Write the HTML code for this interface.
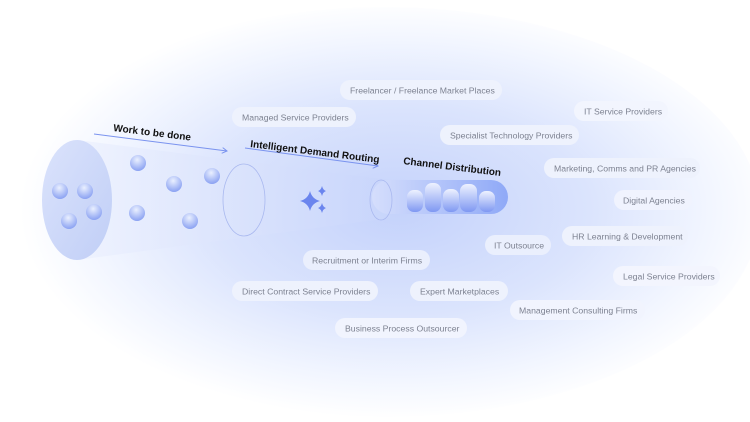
<!DOCTYPE html>
<html><head><meta charset="utf-8"><style>
html,body{margin:0;padding:0;background:#fff;}
svg{display:block;}
.p{font-family:"Liberation Sans",sans-serif;font-size:8.7px;fill:#7d8291;}
.l{font-family:"Liberation Sans",sans-serif;font-size:10px;fill:#111;font-weight:bold;}
</style></head><body>
<svg width="750" height="422" viewBox="0 0 750 422" xmlns="http://www.w3.org/2000/svg">
<defs>
<radialGradient id="bg" cx="400" cy="210" r="380" gradientUnits="userSpaceOnUse" gradientTransform="translate(400 210) scale(1 0.55) translate(-400 -210)">
<stop offset="0" stop-color="#c4d2fb"/><stop offset="0.5" stop-color="#dbe4fd"/><stop offset="0.8" stop-color="#f1f5ff"/><stop offset="1" stop-color="#fff"/>
</radialGradient>
<linearGradient id="fun" x1="0" y1="0" x2="1" y2="0">
<stop offset="0" stop-color="#eef2fe"/><stop offset="1" stop-color="#c8d5fb"/>
</linearGradient>
<linearGradient id="tube" x1="0" y1="0" x2="1" y2="0">
<stop offset="0" stop-color="#d5defc"/><stop offset="1" stop-color="#8fa9f7"/>
</linearGradient>
<radialGradient id="dot" cx="0.45" cy="0.3" r="0.7">
<stop offset="0" stop-color="#eaf0ff"/><stop offset="1" stop-color="#8aa1f2"/>
</radialGradient>
<linearGradient id="bar" x1="0" y1="0" x2="0" y2="1">
<stop offset="0" stop-color="#eef2ff"/><stop offset="1" stop-color="#7f98f2"/>
</linearGradient>
<linearGradient id="big" x1="0" y1="0" x2="1" y2="1">
<stop offset="0" stop-color="#dbe3fc"/><stop offset="1" stop-color="#c0cef6"/>
</linearGradient>
<marker id="ar" markerWidth="6" markerHeight="6" refX="5" refY="3" orient="auto"><path d="M0,0 L5,3 L0,6" fill="none" stroke="#7a93ef" stroke-width="1"/></marker>
</defs>
<rect width="750" height="422" fill="#fff"/>
<ellipse cx="385" cy="212" rx="375" ry="205" fill="url(#bg)"/>
<path d="M77,140 L390,180 L390,218 L77,260 Z" fill="url(#fun)" opacity="0.85"/>
<rect x="372" y="180" width="136" height="34" rx="17" fill="url(#tube)"/>
<ellipse cx="77" cy="200" rx="35" ry="60" fill="url(#big)"/>
<ellipse cx="244" cy="200" rx="21" ry="36" fill="none" stroke="#a9b8ef" stroke-width="0.8"/>
<ellipse cx="381" cy="200" rx="11" ry="20" fill="none" stroke="#a9b8ef" stroke-width="0.8"/>
<g fill="url(#dot)">
<circle cx="60" cy="191" r="8"/><circle cx="85" cy="191" r="8"/><circle cx="94" cy="212" r="8"/><circle cx="69" cy="221" r="8"/>
<circle cx="138" cy="163" r="8"/><circle cx="174" cy="184" r="8"/><circle cx="212" cy="176" r="8"/><circle cx="137" cy="213" r="8"/><circle cx="190" cy="221" r="8"/>
</g>
<g fill="url(#bar)">
<rect x="407" y="190" width="16" height="22" rx="7"/><rect x="425" y="183" width="16" height="29" rx="7"/><rect x="443" y="189" width="16" height="23" rx="7"/><rect x="460" y="184" width="17" height="28" rx="7"/><rect x="479" y="191" width="16" height="21" rx="7"/>
</g>
<g fill="#6b85ee">
<path d="M310,191 Q312,199 320,201 Q312,203 310,211 Q308,203 300,201 Q308,199 310,191Z"/>
<path d="M322,186 Q323,190 326,191 Q323,192 322,196 Q321,192 318,191 Q321,190 322,186Z"/>
<path d="M322,203 Q323,207 326,208 Q323,209 322,213 Q321,209 318,208 Q321,207 322,203Z"/>
</g>
<line x1="94" y1="134" x2="227" y2="151" stroke="#7a93ef" stroke-width="1" marker-end="url(#ar)"/>
<line x1="245" y1="148" x2="378" y2="166" stroke="#7a93ef" stroke-width="1" marker-end="url(#ar)"/>
<text class="l" transform="translate(113,131) rotate(7)">Work to be done</text>
<text class="l" transform="translate(250,147) rotate(7)">Intelligent Demand Routing</text>
<text class="l" transform="translate(403,164) rotate(7)">Channel Distribution</text>
<g>
<rect x="340" y="80" width="162" height="20" rx="10" fill="#eef2fd"/><text class="p" x="350" y="93.5">Freelancer / Freelance Market Places</text>
<rect x="232" y="107" width="124" height="20" rx="10" fill="#eef2fd"/><text class="p" x="242" y="120.5">Managed Service Providers</text>
<rect x="574" y="101" width="94" height="20" rx="10" fill="#f2f5fe"/><text class="p" x="584" y="114.5">IT Service Providers</text>
<rect x="440" y="125" width="139" height="20" rx="10" fill="#eef2fd"/><text class="p" x="450" y="138.5">Specialist Technology Providers</text>
<rect x="544" y="158" width="156" height="20" rx="10" fill="#eef2fd"/><text class="p" x="554" y="171.5">Marketing, Comms and PR Agencies</text>
<rect x="614" y="190" width="78" height="20" rx="10" fill="#f0f3fe"/><text class="p" x="623" y="203.5">Digital Agencies</text>
<rect x="562" y="226" width="126" height="20" rx="10" fill="#eef2fd"/><text class="p" x="572" y="239.5">HR Learning &amp; Development</text>
<rect x="485" y="235" width="66" height="20" rx="10" fill="#eaeffd"/><text class="p" x="494" y="248.5">IT Outsource</text>
<rect x="303" y="250" width="127" height="20" rx="10" fill="#eaeffd"/><text class="p" x="312" y="263.5">Recruitment or Interim Firms</text>
<rect x="613" y="266" width="107" height="20" rx="10" fill="#f3f5fe"/><text class="p" x="623" y="279.5">Legal Service Providers</text>
<rect x="232" y="281" width="146" height="20" rx="10" fill="#eef2fd"/><text class="p" x="242" y="294.5">Direct Contract Service Providers</text>
<rect x="410" y="281" width="98" height="20" rx="10" fill="#eef2fd"/><text class="p" x="420" y="294.5">Expert Marketplaces</text>
<rect x="510" y="300" width="135" height="20" rx="10" fill="#f1f4fe"/><text class="p" x="519" y="313.5">Management Consulting Firms</text>
<rect x="335" y="318" width="132" height="20" rx="10" fill="#f1f4fe"/><text class="p" x="345" y="331.5">Business Process Outsourcer</text>
</g>
</svg>
</body></html>
